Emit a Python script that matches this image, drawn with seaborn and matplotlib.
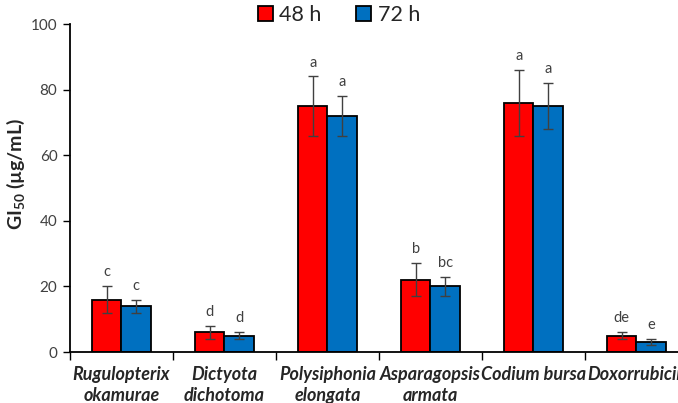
import matplotlib
matplotlib.use("Agg")
import matplotlib.pyplot as plt
import numpy as np
import pandas as pd
import seaborn as sns

# data
species = ["Rugulopterix\nokamurae", "Dictyota\ndichotoma", "Polysiphonia\nelongata",
           "Asparagopsis\narmata", "Codium bursa", "Doxorrubicin"]
times = ["48 h", "72 h"]
gi50_48h = [16, 6, 75, 22, 76, 5]
gi50_72h = [14, 5, 72, 20, 75, 3]
sd_48h = [4, 2, 9, 5, 10, 1]
sd_72h = [2, 1, 6, 3, 7, 1]
letters_48h = ["c", "d", "a", "b", "a", "de"]
letters_72h = ["c", "d", "a", "bc", "a", "e"]

COLORS = {"48 h": "#FF0000", "72 h": "#0070C0"}

sns.set_style("white")
plt.rcParams["font.family"] = ["Lato", "DejaVu Sans"]
plt.rcParams["mathtext.fontset"] = "custom"
plt.rcParams["mathtext.rm"] = "Lato"
plt.rcParams["mathtext.bf"] = "Lato:bold"
plt.rcParams["mathtext.default"] = "bf"

df = pd.DataFrame({
    "species": species * 2,
    "time": [times[0]] * len(species) + [times[1]] * len(species),
    "gi50": gi50_48h + gi50_72h,
    "sd": sd_48h + sd_72h,
    "letter": letters_48h + letters_72h,
})

fig = plt.figure(figsize=(6.78, 4.03), dpi=100)
ax = fig.add_axes([70 / 678, 1 - 352 / 403, 618 / 678, 328 / 403])

sns.barplot(data=df, x="species", y="gi50", hue="time", order=species, hue_order=times,
            palette=COLORS, saturation=1, width=0.57, gap=0, errorbar=None,
            edgecolor="black", linewidth=1.3, ax=ax, legend=True)

# error bars + significance letters, one container per hue level
for cont, t in zip(ax.containers, times):
    sub = df[df["time"] == t].set_index("species").loc[species]
    for bar, sd, lt in zip(cont, sub["sd"], sub["letter"]):
        xc = bar.get_x() + bar.get_width() / 2
        h = bar.get_height()
        ax.errorbar(xc, h, yerr=sd, fmt="none", ecolor="#404040", elinewidth=1,
                    capsize=3.5, capthick=1, zorder=5)
        ax.annotate(lt, (xc, h + sd), xytext=(0, 5), textcoords="offset points",
                    ha="center", va="bottom", fontsize=10.5, color="#404040")

ax.set_ylim(0, 100)
ax.set_xlim(-0.5, len(species) - 0.5)
ax.set_yticks(np.arange(0, 101, 20))
ax.tick_params(axis="y", direction="out", length=5, width=1, color="black",
               labelsize=11, labelcolor="#404040", left=True, pad=4)

# ticks between groups, labels at group centres
ax.set_xticks(np.arange(-0.5, len(species) + 0.5, 1))
ax.set_xticklabels([])
ax.set_xticks(np.arange(len(species)), minor=True)
ax.set_xticklabels(species, minor=True, fontsize=13, fontweight="bold", style="italic")
for lab in ax.get_xticklabels(minor=True):
    lab.set_linespacing(1.3)
ax.tick_params(axis="x", which="major", direction="out", length=6, width=1,
               color="black", bottom=True)
ax.tick_params(axis="x", which="minor", length=0, pad=10)

ax.set_xlabel("")
ax.set_ylabel("GI$_{50}$ (µg/mL)", fontsize=14, fontweight="bold", labelpad=3)
ax.yaxis.label.set_y(0.543)

for side in ["top", "right"]:
    ax.spines[side].set_visible(False)
for side in ["left", "bottom"]:
    ax.spines[side].set_color("black")
    ax.spines[side].set_linewidth(1.3)

ax.legend(loc="upper center", bbox_to_anchor=((339 - 70) / 618, 1.085),
          ncol=2, frameon=False, fontsize=15.5, handlelength=0.7, handleheight=0.7,
          handletextpad=0.3, columnspacing=1.6, borderaxespad=0)

fig.savefig("out.png", dpi=100)
